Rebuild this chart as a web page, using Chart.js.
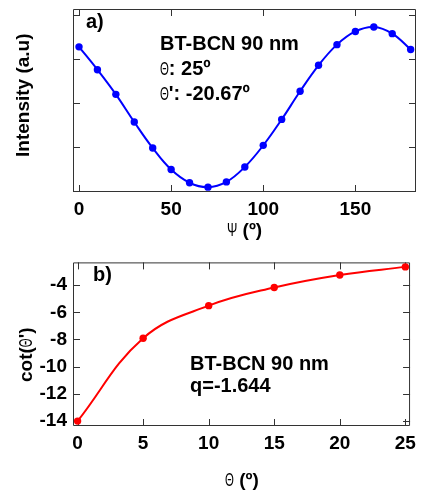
<!DOCTYPE html>
<html>
<head>
<meta charset="utf-8">
<script src="https://cdn.jsdelivr.net/npm/chart.js@4.4.0/dist/chart.umd.min.js"></script>
<style>
  html, body { margin: 0; padding: 0; background: #fff; }
  #wrap { position: relative; width: 422px; height: 491px; }
  canvas { position: absolute; left: 0; }
  #topChart { top: 0; }
  #botChart { top: 245px; }
</style>
</head>
<body>
<div id="wrap">
  <canvas id="topChart" width="422" height="245"></canvas>
  <canvas id="botChart" width="422" height="246"></canvas>
</div>
<script>
// ===== panel a) : intensity vs Psi =====
const psi = [0, 10, 20, 30, 40, 50, 60, 70, 80, 90, 100, 110, 120, 130, 140, 150, 160, 170, 180];
const intensity = [3.28, 2.76, 2.20, 1.57, 0.98, 0.49, 0.19, 0.09, 0.21, 0.55, 1.04, 1.63, 2.27, 2.86, 3.33, 3.63, 3.73, 3.58, 3.22];
const psiTicks = [0, 50, 100, 150];
const intensityTicks = [0, 1, 2, 3, 4];

// ===== panel b) : cot(Theta') vs Theta =====
const theta = [0, 5, 10, 15, 20, 25];
const cotTheta = [-14.02, -7.91, -5.51, -4.17, -3.25, -2.65];
const thetaTicks = [0, 5, 10, 15, 20, 25];
const cotTicks = [-14, -12, -10, -8, -6, -4];

const FONT = '"Liberation Sans", Arial, sans-serif';
const AX = 'bold 19px ' + FONT;
const TXT = 'bold 20px ' + FONT;
const SYM = 'normal 19px ' + FONT;   // thin greek letters like the Symbol font

// --- frame + inward ticks on all four sides ---
const framePlugin = {
  id: 'frame',
  beforeDatasetsDraw(chart, args, opts) {
    const { ctx, chartArea: a, scales: { x, y } } = chart;
    const len = 7;
    ctx.save();
    ctx.strokeStyle = '#333';
    ctx.lineWidth = 1;
    ctx.beginPath();
    ctx.rect(a.left + 0.5, a.top + 0.5, a.right - a.left - 1, a.bottom - a.top - 1);
    opts.xTicks.forEach(v => {
      const px = Math.round(x.getPixelForValue(v)) + 0.5;
      ctx.moveTo(px, a.bottom); ctx.lineTo(px, a.bottom - len);
      ctx.moveTo(px, a.top); ctx.lineTo(px, a.top + len);
    });
    opts.yTicks.forEach(v => {
      const py = Math.round(y.getPixelForValue(v)) + 0.5;
      ctx.moveTo(a.left, py); ctx.lineTo(a.left + len, py);
      ctx.moveTo(a.right, py); ctx.lineTo(a.right - len, py);
    });
    ctx.stroke();
    ctx.restore();
  }
};

// --- text with mixed fonts (bold text + thin greek letters) ---
function drawRich(ctx, item) {
  ctx.save();
  ctx.translate(item.x, item.y);
  if (item.rot) ctx.rotate(item.rot);
  ctx.textBaseline = 'alphabetic';
  ctx.textAlign = 'left';
  ctx.fillStyle = '#000';
  let cx = 0;
  item.parts.forEach(p => {
    ctx.font = p.font;
    const sx = p.sx || 1;
    ctx.save();
    ctx.translate(cx, 0);
    ctx.scale(sx, 1);
    ctx.fillText(p.text, 0, 0);
    ctx.restore();
    cx += ctx.measureText(p.text).width * sx;
  });
  ctx.restore();
}

const textPlugin = {
  id: 'texts',
  afterDraw(chart, args, opts) {
    opts.items.forEach(it => drawRich(chart.ctx, it));
  }
};

const tickFont = { family: FONT, size: 19, weight: 'bold' };

// ================= panel a) =================
new Chart(document.getElementById('topChart'), {
  type: 'line',
  data: {
    datasets: [{
      data: psi.map((v, i) => ({ x: v, y: intensity[i] })),
      borderColor: '#0000ff',
      backgroundColor: '#0000ff',
      borderWidth: 2,
      pointRadius: 3.7,
      pointBorderWidth: 0,
      tension: 0.4
    }]
  },
  options: {
    responsive: false,
    animation: false,
    layout: { padding: { top: 9, right: 6, left: 0, bottom: 0 } },
    plugins: {
      legend: { display: false },
      tooltip: { enabled: false },
      frame: { xTicks: psiTicks, yTicks: intensityTicks },
      texts: {
        items: [
          { x: 86, y: 28, parts: [{ text: 'a)', font: TXT }] },
          { x: 160, y: 49.5, parts: [{ text: 'BT-BCN 90 nm', font: TXT }] },
          { x: 160, y: 75, parts: [{ text: 'Θ', font: SYM, sx: 0.6 }, { text: ': 25º', font: TXT }] },
          { x: 160, y: 100, parts: [{ text: 'Θ', font: SYM, sx: 0.6 }, { text: '\': -20.67º', font: TXT }] },
          { x: 29, y: 157, rot: -Math.PI / 2, parts: [{ text: 'Intensity (a.u)', font: AX }] },
          { x: 227, y: 236, parts: [{ text: 'Ψ', font: SYM, sx: 0.65 }, { text: ' (º)', font: AX }] }
        ]
      }
    },
    scales: {
      x: {
        type: 'linear',
        min: -3.26,
        max: 182.9,
        afterBuildTicks: s => { s.ticks = psiTicks.map(v => ({ value: v })); },
        afterFit: s => { s.height = 53; },
        grid: { display: false, drawTicks: false },
        border: { display: false },
        ticks: { padding: 6, color: '#000', font: tickFont, maxRotation: 0 }
      },
      y: {
        type: 'linear',
        min: -0.02,
        max: 4.14,
        afterBuildTicks: s => { s.ticks = intensityTicks.map(v => ({ value: v })); },
        afterFit: s => { s.width = 73; },
        grid: { display: false, drawTicks: false },
        border: { display: false },
        ticks: { display: false }
      }
    }
  },
  plugins: [framePlugin, textPlugin]
});

// ================= panel b) =================
new Chart(document.getElementById('botChart'), {
  type: 'line',
  data: {
    datasets: [{
      data: theta.map((v, i) => ({ x: v, y: cotTheta[i] })),
      borderColor: '#ff0000',
      backgroundColor: '#ff0000',
      borderWidth: 2,
      pointRadius: 3.7,
      pointBorderWidth: 0,
      tension: 0.4
    }]
  },
  options: {
    responsive: false,
    animation: false,
    layout: { padding: { top: 13, right: 6.5, left: 0, bottom: 0 } },
    plugins: {
      legend: { display: false },
      tooltip: { enabled: false },
      frame: { xTicks: thetaTicks, yTicks: cotTicks },
      texts: {
        items: [
          { x: 93, y: 36, parts: [{ text: 'b)', font: TXT }] },
          { x: 190, y: 125, parts: [{ text: 'BT-BCN 90 nm', font: TXT }] },
          { x: 190, y: 147, parts: [{ text: 'q=-1.644', font: TXT }] },
          { x: 31.5, y: 137, rot: -Math.PI / 2, parts: [{ text: 'cot(', font: AX }, { text: 'Θ', font: SYM, sx: 0.6 }, { text: '\')', font: AX }] },
          { x: 225, y: 241, parts: [{ text: 'Θ', font: SYM, sx: 0.6 }, { text: ' (º)', font: AX }] }
        ]
      }
    },
    scales: {
      x: {
        type: 'linear',
        min: -0.35,
        max: 25.36,
        afterBuildTicks: s => { s.ticks = thetaTicks.map(v => ({ value: v })); },
        afterFit: s => { s.height = 65; },
        grid: { display: false, drawTicks: false },
        border: { display: false },
        ticks: { padding: 6, color: '#000', font: tickFont, maxRotation: 0 }
      },
      y: {
        type: 'linear',
        min: -14.38,
        max: -2.32,
        afterBuildTicks: s => { s.ticks = cotTicks.map(v => ({ value: v })); },
        afterFit: s => { s.width = 73; },
        grid: { display: false, drawTicks: false },
        border: { display: false },
        ticks: { padding: 6, color: '#000', font: tickFont }
      }
    }
  },
  plugins: [framePlugin, textPlugin]
});
</script>
</body>
</html>
